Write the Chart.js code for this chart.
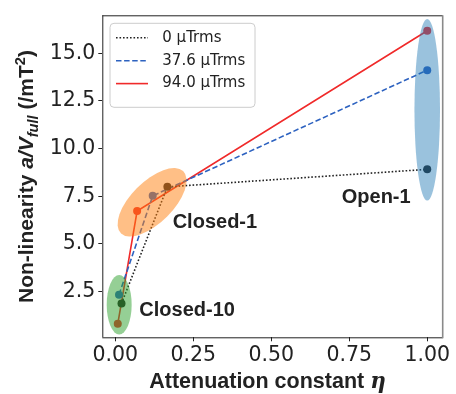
<!DOCTYPE html>
<html>
<head>
<meta charset="utf-8">
<script src="https://cdn.jsdelivr.net/npm/chart.js@4"></script>
<style>
  html, body { margin: 0; padding: 0; background: #fff; }
  #wrap { width: 456px; height: 394px; }
</style>
</head>
<body>
<div id="wrap"><canvas id="c" width="456" height="394"></canvas></div>
<script>
// Non-linearity versus attenuation constant for three drive fields
const sampleGroups = ['Closed-10', 'Closed-1', 'Open-1'];
const seriesLabels = ['0 µTrms', '37.6 µTrms', '94.0 µTrms'];

const etaField0 = [0.020, 0.167, 1.0];
const nlField0 = [1.87, 7.99, 8.91];

const etaField376 = [0.012, 0.120, 1.0];
const nlField376 = [2.33, 7.52, 14.12];

const etaField940 = [0.008, 0.070, 1.0];
const nlField940 = [0.80, 6.72, 16.19];

const xTickValues = [0, 0.25, 0.5, 0.75, 1.0];
const yTickValues = [2.5, 5.0, 7.5, 10.0, 12.5, 15.0];

// group regions: centre and half-axis vectors in data units
const groupCentreEta = [0.0125, 0.118, 1.0];
const groupCentreNl = [1.80, 7.18, 12.04];
const groupAxisU = [[0.040, 0], [0.0994, 1.637], [0.041, 0]];
const groupAxisV = [[0, 1.56], [0.0484, -0.745], [0, 4.77]];
// group name anchors (left, baseline) in data units
const groupLabelEta = [0.077, 0.184, 0.726];
const groupLabelNl = [1.22, 5.85, 7.13];

const regionColors = ['rgba(44,160,44,0.5)', 'rgba(255,127,14,0.5)', 'rgba(31,119,180,0.45)'];

function pts(xs, ys) { return xs.map((x, i) => ({ x: x, y: ys[i] })); }

const lineStyles = [
  { color: '#222222', dash: [1.6, 1.9] },
  { color: '#2d62c0', dash: [5.5, 2.6] },
  { color: '#f02a2a', dash: [] }
];
const seriesData = [pts(etaField0, nlField0), pts(etaField376, nlField376), pts(etaField940, nlField940)];

const datasets = seriesData.map((d, i) => ({
  label: seriesLabels[i],
  data: d,
  borderColor: lineStyles[i].color,
  backgroundColor: lineStyles[i].color,
  pointBackgroundColor: lineStyles[i].color,
  pointBorderColor: lineStyles[i].color,
  pointBorderWidth: 0,
  pointRadius: 4,
  borderWidth: 1.6,
  borderDash: lineStyles[i].dash,
  tension: 0,
  fill: false
}));

const regionsPlugin = {
  id: 'regions',
  afterDatasetsDraw(chart) {
    const ctx = chart.ctx, xs = chart.scales.x, ys = chart.scales.y;
    const sx = xs.getPixelForValue(1) - xs.getPixelForValue(0);
    const sy = ys.getPixelForValue(1) - ys.getPixelForValue(0);
    ctx.save();
    ctx.beginPath();
    ctx.rect(chart.chartArea.left, chart.chartArea.top, chart.chartArea.width, chart.chartArea.height);
    ctx.clip();
    for (let i = 0; i < sampleGroups.length; i++) {
      const cx = xs.getPixelForValue(groupCentreEta[i]);
      const cy = ys.getPixelForValue(groupCentreNl[i]);
      const u = groupAxisU[i], v = groupAxisV[i];
      ctx.save();
      ctx.transform(u[0] * sx, u[1] * sy, v[0] * sx, v[1] * sy, cx, cy);
      ctx.beginPath();
      ctx.arc(0, 0, 1, 0, Math.PI * 2);
      ctx.restore();
      ctx.fillStyle = regionColors[i];
      ctx.fill();
    }
    ctx.restore();

    ctx.save();
    ctx.fillStyle = '#222';
    ctx.font = 'bold 20px "Liberation Sans", Arial, sans-serif';
    ctx.textAlign = 'left';
    ctx.textBaseline = 'alphabetic';
    for (let i = 0; i < sampleGroups.length; i++) {
      ctx.fillText(sampleGroups[i], xs.getPixelForValue(groupLabelEta[i]), ys.getPixelForValue(groupLabelNl[i]));
    }
    ctx.restore();
  },
  afterDraw(chart) {
    const ctx = chart.ctx, a = chart.chartArea;
    ctx.save();
    // frame
    ctx.lineWidth = 1;
    ctx.strokeStyle = '#222';
    ctx.beginPath();
    ctx.moveTo(a.left + 0.5, a.top);
    ctx.lineTo(a.left + 0.5, a.bottom);
    ctx.moveTo(a.left, a.top + 0.5);
    ctx.lineTo(a.right, a.top + 0.5);
    ctx.moveTo(a.left, a.bottom + 0.5);
    ctx.lineTo(a.right, a.bottom + 0.5);
    ctx.stroke();
    ctx.strokeStyle = '#8a8a8a';
    ctx.lineWidth = 1.6;
    ctx.beginPath();
    ctx.moveTo(a.right, a.top);
    ctx.lineTo(a.right, a.bottom + 1);
    ctx.stroke();

    // legend
    const lx = a.left + 7.7, ly = a.top + 8, lw = 145, lh = 84;
    ctx.beginPath();
    ctx.roundRect(lx, ly, lw, lh, 4);
    ctx.fillStyle = 'rgba(255,255,255,0.85)';
    ctx.fill();
    ctx.strokeStyle = '#cccccc';
    ctx.lineWidth = 1;
    ctx.stroke();
    ctx.font = '15px "DejaVu Sans", sans-serif';
    ctx.textBaseline = 'middle';
    ctx.textAlign = 'left';
    chart.data.datasets.forEach((ds, i) => {
      const yy = ly + 14.5 + i * 22.9;
      ctx.beginPath();
      ctx.setLineDash(ds.borderDash);
      ctx.strokeStyle = ds.borderColor;
      ctx.lineWidth = ds.borderWidth;
      ctx.moveTo(lx + 6, yy);
      ctx.lineTo(lx + 38, yy);
      ctx.stroke();
      ctx.setLineDash([]);
      ctx.fillStyle = '#222';
      ctx.fillText(ds.label, lx + 52.3, yy);
    });

    // x title
    const bold = 'bold 21.5px "Liberation Sans", Arial, sans-serif';
    const boldIt = 'italic bold 21.5px "DejaVu Serif", serif';
    ctx.fillStyle = '#222';
    ctx.textBaseline = 'alphabetic';
    const t1 = 'Attenuation constant ', t2 = 'η';
    ctx.font = bold; const w1 = ctx.measureText(t1).width;
    ctx.font = boldIt; const w2 = ctx.measureText(t2).width;
    let x0 = 267.5 - (w1 + w2) / 2;
    ctx.font = bold; ctx.fillText(t1, x0, 387.7);
    ctx.font = boldIt; ctx.fillText(t2, x0 + w1, 387.7);

    // y title, rotated
    const fs = 21;
    const parts = [
      { t: 'Non-linearity ', f: `bold ${fs}px "Liberation Sans", Arial, sans-serif`, dy: 0 },
      { t: 'a/V', f: `italic bold ${fs}px "Liberation Sans", Arial, sans-serif`, dy: 0 },
      { t: 'full', f: `italic bold ${fs * 0.7}px "Liberation Sans", Arial, sans-serif`, dy: 4.5 },
      { t: ' (/mT', f: `bold ${fs}px "Liberation Sans", Arial, sans-serif`, dy: 0 },
      { t: '2', f: `bold ${fs * 0.7}px "Liberation Sans", Arial, sans-serif`, dy: -8.5 },
      { t: ')', f: `bold ${fs}px "Liberation Sans", Arial, sans-serif`, dy: 0 }
    ];
    let total = 0;
    parts.forEach(p => { ctx.font = p.f; p.w = ctx.measureText(p.t).width; total += p.w; });
    ctx.translate(33, 176.5);
    ctx.rotate(-Math.PI / 2);
    let px = -total / 2;
    parts.forEach(p => { ctx.font = p.f; ctx.fillText(p.t, px, p.dy); px += p.w; });
    ctx.restore();
  }
};

const tickFont = { family: '"DejaVu Sans", sans-serif', size: 20.5 };

new Chart(document.getElementById('c'), {
  type: 'line',
  data: { datasets: datasets },
  options: {
    responsive: false,
    animation: false,
    devicePixelRatio: 1,
    layout: { padding: { left: 0, right: 13.3, top: 6, bottom: 0 } },
    plugins: { legend: { display: false }, tooltip: { enabled: false } },
    scales: {
      x: {
        type: 'linear',
        min: -0.0416,
        max: 1.0496,
        afterBuildTicks: s => { s.ticks = xTickValues.map(v => ({ value: v })); },
        afterFit: s => { s.height = 56.7; },
        ticks: { font: tickFont, color: '#222', padding: 2, maxRotation: 0, autoSkip: false,
          callback: v => Number(v).toFixed(2) },
        grid: { drawOnChartArea: false, drawTicks: true, tickLength: 4, color: '#222', tickWidth: 1 },
        border: { display: false }
      },
      y: {
        type: 'linear',
        min: 0.09,
        max: 17.0,
        afterBuildTicks: s => { s.ticks = yTickValues.map(v => ({ value: v })); },
        afterFit: s => { s.width = 102.3; },
        ticks: { font: tickFont, color: '#222', padding: 3, autoSkip: false,
          callback: v => Number(v).toFixed(1) },
        grid: { drawOnChartArea: false, drawTicks: true, tickLength: 4, color: '#222', tickWidth: 1 },
        border: { display: false }
      }
    }
  },
  plugins: [regionsPlugin]
});
</script>
</body>
</html>
